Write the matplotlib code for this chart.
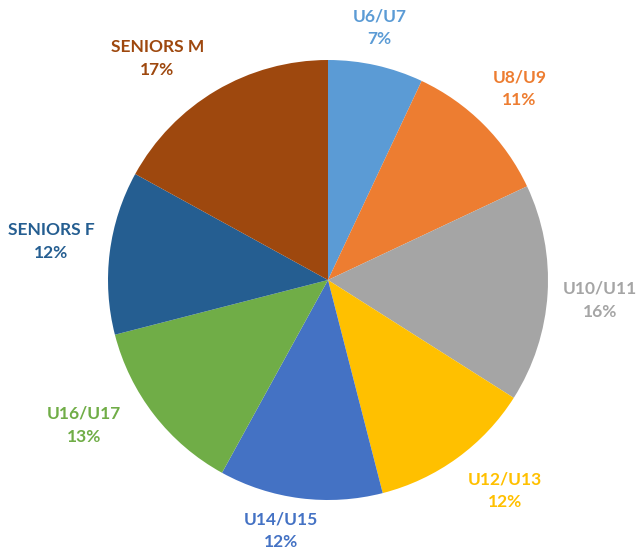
import numpy as np
import matplotlib
matplotlib.use('Agg')
import matplotlib.pyplot as plt

# data
categories = ['U6/U7', 'U8/U9', 'U10/U11', 'U12/U13', 'U14/U15', 'U16/U17', 'SENIORS F', 'SENIORS M']
shares = [7, 11, 16, 12, 12, 13, 12, 17]
colors = ['#5B9BD5', '#ED7D31', '#A5A5A5', '#FFC000', '#4472C4', '#70AD47', '#255E91', '#9E480E']

# label placement (radial distance, angle offset in degrees)
label_dist = [1.17, 1.23, 1.24, 1.25, 1.16, 1.29, 1.27, 1.27]
label_shift = [1, 0, -0.6, 4, -3.4, -7, -0.8, 7]

W, H = 641, 549
fig = plt.figure(figsize=(W / 100, H / 100), dpi=100)
cx, cy, r = 328, 280, 220
ax = fig.add_axes([(cx - r) / W, (H - cy - r) / H, 2 * r / W, 2 * r / H])

wedges, _ = ax.pie(shares, colors=colors, startangle=90, counterclock=False,
                   radius=1, wedgeprops=dict(linewidth=0))

for w, lab, val, d, sh, col in zip(wedges, categories, shares, label_dist, label_shift, colors):
    mid = np.deg2rad((w.theta1 + w.theta2) / 2 + sh)
    ax.text(d * np.cos(mid), d * np.sin(mid), f'{lab}\n{val}%', ha='center', va='center',
            color=col, fontsize=12.5, fontweight='bold', family=['Lato', 'DejaVu Sans'],
            linespacing=1.55)

ax.set_xlim(-1, 1)
ax.set_ylim(-1, 1)
ax.set_aspect('equal')
ax.axis('off')

fig.savefig('out.png', dpi=100)
